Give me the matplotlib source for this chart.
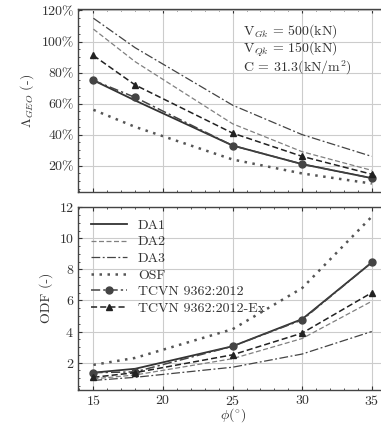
import matplotlib
matplotlib.use("Agg")
import matplotlib.pyplot as plt
from matplotlib.ticker import FuncFormatter, MultipleLocator

plt.rcParams["font.family"] = "cmr10"
plt.rcParams["mathtext.fontset"] = "cm"
plt.rcParams["axes.formatter.use_mathtext"] = True
plt.rcParams["axes.unicode_minus"] = False

phi = [15, 18, 25, 30, 35]

# Lambda_GEO (%)
lam_da1 = [75, 62, 33, 21, 12]
lam_da2 = [108, 87, 47, 29, 17]
lam_da3 = [115, 96, 59, 40, 26]
lam_osf = [56, 45, 24, 15, 8.5]
lam_tcvn = [75, 64, 33, 21, 12]
lam_tcvn_ex = [91, 72, 41, 26, 14.5]

# ODF
odf_da1 = [1.35, 1.6, 3.05, 4.8, 8.45]
odf_da2 = [0.95, 1.2, 2.25, 3.55, 5.95]
odf_da3 = [0.85, 1.05, 1.7, 2.55, 4.0]
odf_osf = [1.85, 2.3, 4.15, 6.8, 11.4]
odf_tcvn = [1.35, 1.4, 3.05, 4.75, 8.45]
odf_tcvn_ex = [1.05, 1.35, 2.5, 3.9, 6.5]

labels = ["DA1", "DA2", "DA3", "OSF", "TCVN 9362:2012", "TCVN 9362:2012-Ex"]

styles = [
    dict(color="#333333", lw=1.3, ls="-"),
    dict(color="#808080", lw=0.9, ls=(0, (4, 2))),
    dict(color="#444444", lw=0.9, ls=(0, (7, 2, 1.5, 2))),
    dict(color="#555555", lw=1.8, ls=(0, (1, 2.2))),
    dict(color="#444444", lw=1.1, ls=(0, (6, 2, 1.5, 2)), marker="o", ms=5),
    dict(color="#222222", lw=1.1, ls=(0, (4, 2)), marker="^", ms=5),
]

fig = plt.figure(figsize=(3.81, 4.25), dpi=100)
ax1 = fig.add_axes([0.205, 0.548, 0.811, 0.431])
ax2 = fig.add_axes([0.205, 0.083, 0.811, 0.431])

top = [lam_da1, lam_da2, lam_da3, lam_osf, lam_tcvn, lam_tcvn_ex]
bot = [odf_da1, odf_da2, odf_da3, odf_osf, odf_tcvn, odf_tcvn_ex]

for vals, st, lab in zip(top, styles, labels):
    ax1.plot(phi, vals, label=lab, **st)
for vals, st, lab in zip(bot, styles, labels):
    ax2.plot(phi, vals, label=lab, **st)

for ax in (ax1, ax2):
    ax.set_xlim(13.9, 36.1)
    ax.xaxis.set_major_locator(MultipleLocator(5))
    ax.xaxis.set_minor_locator(MultipleLocator(1))
    ax.grid(True, which="major", color="#cccccc", lw=0.8)
    ax.tick_params(which="both", direction="in", top=True, right=True,
                   labelsize=10, colors="#333333", pad=3)
    ax.tick_params(which="major", length=3)
    ax.tick_params(which="minor", length=1.5)
    for sp in ax.spines.values():
        sp.set_color("#444444")
        sp.set_linewidth(1.0)

ax1.set_ylim(3, 121)
ax1.yaxis.set_major_locator(MultipleLocator(20))
ax1.yaxis.set_minor_locator(MultipleLocator(5))
ax1.yaxis.set_major_formatter(FuncFormatter(lambda v, p: "%d%%" % v))
ax1.set_xticklabels([])
ax1.set_ylabel(r"$\Lambda_{GEO}$ (-)", fontsize=10, color="#333333")
ax1.text(0.535, 0.93, r"V$_{Gk}$ = 500(kN)" "\n" r"V$_{Qk}$ = 150(kN)" "\n"
         r"C = 31.3(kN/m$^2$)", transform=ax1.transAxes, fontsize=10,
         va="top", ha="left", color="#333333", linespacing=1.0)

ax2.set_ylim(0.25, 12.05)
ax2.yaxis.set_major_locator(MultipleLocator(2))
ax2.yaxis.set_minor_locator(MultipleLocator(0.5))
ax2.set_ylabel("ODF (-)", fontsize=10, color="#333333")
ax2.set_xlabel(r"$\phi(^{\circ})$", fontsize=10, color="#333333", labelpad=-1)
leg = ax2.legend(loc="upper left", frameon=False, fontsize=10, handlelength=2.6,
                 labelspacing=0.28, borderaxespad=0.5, handletextpad=0.8,
                 labelcolor="#333333")

fig.savefig("out.png", dpi=100)
